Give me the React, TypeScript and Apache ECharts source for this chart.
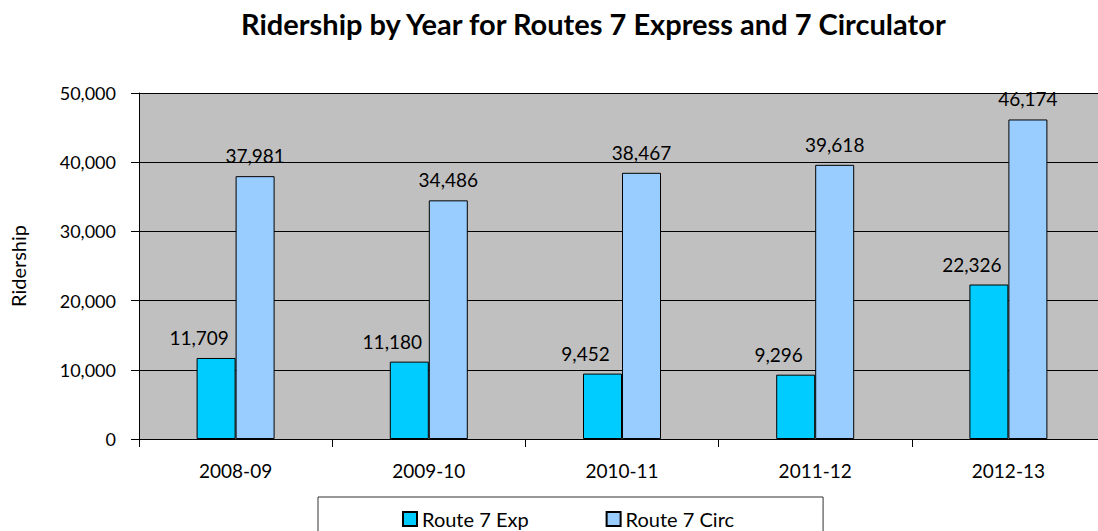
import React, { useEffect, useRef } from "react";
import * as echarts from "echarts";

const categories = ["2008-09", "2009-10", "2010-11", "2011-12", "2012-13"];
const route7Exp = [11709, 11180, 9452, 9296, 22326];
const route7Circ = [37981, 34486, 38467, 39618, 46174];
const seriesNames = ["Route 7 Exp", "Route 7 Circ"];
const titleText = "Ridership by Year for Routes 7 Express and 7 Circulator";
const yAxisName = "Ridership";

const FONT = "Lato, 'Open Sans', sans-serif";
const fmt = (v: number) => Number(v).toLocaleString("en-US");

export default function App() {
  const ref = useRef<HTMLDivElement>(null);
  useEffect(() => {
    if (!ref.current) return;
    const chart = echarts.init(ref.current, null, { renderer: "svg" });
    chart.setOption({
      animation: false,
      backgroundColor: "#ffffff",
      textStyle: { fontFamily: FONT },
      title: {
        text: titleText,
        left: 236,
        top: 4,
        textStyle: { fontSize: 29, fontWeight: "bold", color: "#000", fontFamily: FONT },
      },
      legend: {
        data: seriesNames,
        left: 318,
        top: 497,
        padding: [12, 89, 12, 84],
        itemGap: 77,
        itemWidth: 14,
        itemHeight: 14,
        icon: "rect",
        borderColor: "#333",
        borderWidth: 1,
        textStyle: { fontSize: 20, color: "#000", fontFamily: FONT },
      },
      grid: {
        left: 136,
        right: 5,
        top: 93,
        bottom: 92,
        show: true,
        backgroundColor: "#c0c0c0",
        borderWidth: 0,
      },
      xAxis: {
        type: "category",
        data: categories,
        axisLine: { show: true, lineStyle: { color: "#000", width: 1 } },
        axisTick: { show: true, length: 8, alignWithLabel: false, lineStyle: { color: "#000" } },
        axisLabel: { fontSize: 19, color: "#000", margin: 22, fontFamily: FONT },
      },
      yAxis: {
        type: "value",
        min: 0,
        max: 50000,
        interval: 10000,
        name: yAxisName,
        nameLocation: "middle",
        nameGap: 111,
        nameTextStyle: { fontSize: 20, color: "#000", fontFamily: FONT },
        axisLine: { show: true, lineStyle: { color: "#000", width: 1 } },
        axisTick: { show: true, length: 8, lineStyle: { color: "#000" } },
        axisLabel: { fontSize: 18, color: "#000", margin: 23, formatter: (v: number) => fmt(v), fontFamily: FONT },
        splitLine: { show: true, lineStyle: { color: "#000", width: 1 } },
      },
      series: [
        {
          name: seriesNames[0],
          type: "bar",
          data: route7Exp,
          barWidth: 39,
          barGap: "0%",
          itemStyle: { color: "#00ccff", borderColor: "#000", borderWidth: 1 },
          label: {
            show: true,
            position: "top",
            distance: 11,
            offset: [-17, 0],
            fontSize: 19,
            color: "#000",
            fontFamily: FONT,
            formatter: (p: any) => fmt(p.value),
          },
        },
        {
          name: seriesNames[1],
          type: "bar",
          data: route7Circ,
          barWidth: 39,
          barGap: "0%",
          itemStyle: { color: "#99ccff", borderColor: "#000", borderWidth: 1 },
          label: {
            show: true,
            position: "top",
            distance: 11,
            fontSize: 19,
            color: "#000",
            fontFamily: FONT,
            formatter: (p: any) => fmt(p.value),
          },
        },
      ],
    });
    return () => chart.dispose();
  }, []);
  return (
    <div style={{ position: "fixed", left: 0, top: 0, width: 1098, height: 531, overflow: "hidden", background: "#fff" }}>
      <div ref={ref} style={{ position: "absolute", left: 0, top: 0, width: 1110, height: 531 }} />
    </div>
  );
}
